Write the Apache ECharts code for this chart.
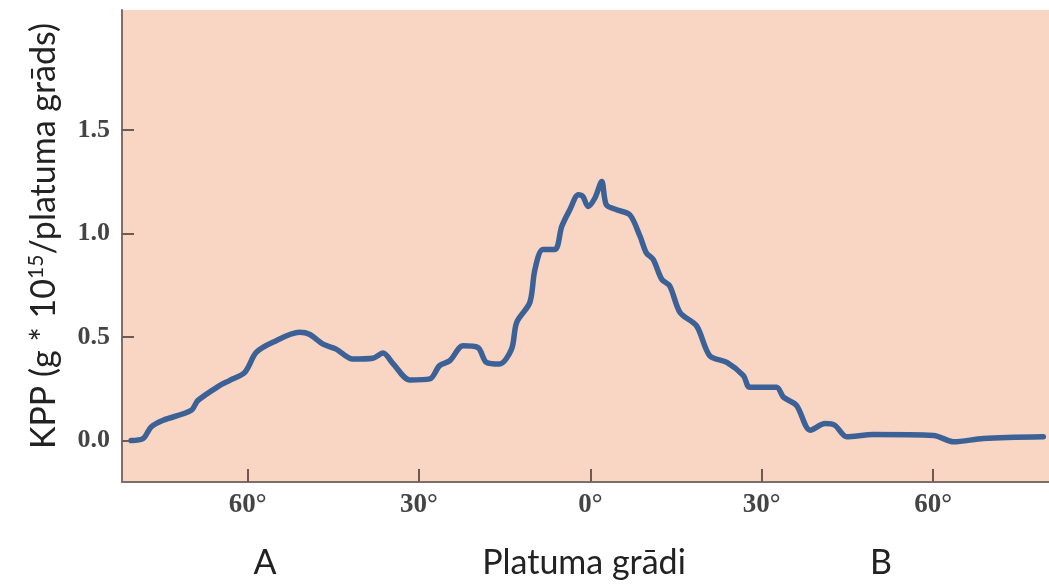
<!DOCTYPE html>
<html>
<head>
<meta charset="utf-8">
<script src="https://cdn.jsdelivr.net/npm/echarts@6/dist/echarts.min.js"></script>
<style>html,body{margin:0;padding:0;background:#fff}#c{width:1049px;height:586px}</style>
</head>
<body>
<div id="c"></div>
<script>
// latitude (negative = left side "A", positive = right side "B")
const latitudes = [-80.4,-78.3,-76.9,-74.8,-69.9,-68.7,-64.9,-63.2,-60.5,-58.5,-55.6,-50.9,-49.2,-46.8,-44.5,-41.6,-38.1,-36.3,-34.5,-31.6,-28.1,-26.4,-24.6,-22.3,-19.7,-18.2,-15.9,-13.8,-12.9,-10.6,-9.7,-8.3,-6.2,-5.0,-3.6,-2.1,-1.3,-0.4,0.8,2.0,2.8,4.6,6.9,8.7,9.8,11.0,12.5,13.9,15.7,18.6,20.9,23.9,26.8,27.9,32.6,33.8,36.1,38.5,41.1,42.8,44.9,49.5,60.1,63.6,68.8,79.3];
const kppValues = [0.0,0.01,0.066,0.098,0.146,0.194,0.266,0.29,0.33,0.426,0.475,0.523,0.514,0.466,0.442,0.394,0.398,0.423,0.37,0.293,0.298,0.362,0.386,0.458,0.45,0.378,0.37,0.442,0.571,0.667,0.827,0.923,0.923,1.035,1.115,1.188,1.179,1.131,1.172,1.251,1.139,1.115,1.091,0.987,0.907,0.875,0.779,0.747,0.619,0.554,0.41,0.378,0.314,0.258,0.258,0.21,0.17,0.05,0.082,0.074,0.018,0.029,0.025,-0.006,0.01,0.018];
const xTickValues = [-60,-30,0,30,60];
const yTickValues = [0,0.5,1.0,1.5];
const xBottomLabels = ['A','Platuma grādi','B'];
const yTitleParts = ['KPP (g * 10','15','/platuma grāds)'];

const chart = echarts.init(document.getElementById('c'), null, {renderer:'canvas'});
const tickColor = '#6e5a55';
chart.setOption({
  animation:false,
  backgroundColor:'#ffffff',
  grid:{left:122,right:0,top:10,bottom:104,show:true,backgroundColor:'#f9d5c3',borderWidth:0},
  xAxis:{
    type:'value',min:-82,max:80.3,
    axisLine:{show:true,onZero:false,lineStyle:{color:'#7d6e6b',width:2}},
    axisTick:{show:true,inside:true,length:13,customValues:xTickValues,lineStyle:{color:tickColor,width:2}},
    axisLabel:{customValues:xTickValues,margin:10,color:'#444',fontFamily:'Liberation Serif',fontWeight:'bold',fontSize:27,
      formatter:v=>Math.abs(v)+'°'},
    splitLine:{show:false}
  },
  yAxis:{
    type:'value',min:-0.2,max:2.08,
    axisLine:{show:true,onZero:false,lineStyle:{color:'#7d6e6b',width:2}},
    axisTick:{show:true,inside:true,length:12,customValues:yTickValues,lineStyle:{color:tickColor,width:2}},
    axisLabel:{customValues:yTickValues,margin:12,color:'#444',fontFamily:'Liberation Serif',fontWeight:'bold',fontSize:26,
      formatter:v=>v.toFixed(1)},
    splitLine:{show:false}
  },
  graphic:[
    {type:'text',x:44,y:236,rotation:Math.PI/2,
      style:{text:'{a|'+yTitleParts[0]+'}{s|'+yTitleParts[1]+'}{a|'+yTitleParts[2]+'}',align:'center',verticalAlign:'middle',
        rich:{a:{fontFamily:'Lato',fontSize:34,fill:'#222',color:'#222'},
              s:{fontFamily:'Lato',fontSize:21,fill:'#222',color:'#222',padding:[0,0,16,0]}}}},
    {type:'text',x:265,y:563,style:{text:xBottomLabels[0],font:'34px Lato',fill:'#222',align:'center',verticalAlign:'middle'}},
    {type:'text',x:584,y:563,style:{text:xBottomLabels[1],font:'34px Lato',fill:'#222',align:'center',verticalAlign:'middle'}},
    {type:'text',x:881,y:563,style:{text:xBottomLabels[2],font:'34px Lato',fill:'#222',align:'center',verticalAlign:'middle'}}
  ],
  series:[{
    type:'line',
    data:latitudes.map((x,i)=>[x,kppValues[i]]),
    showSymbol:false,smooth:0.3,
    lineStyle:{color:'#3b6196',width:5.5,cap:'round',join:'round'}
  }]
});
</script>
</body>
</html>
